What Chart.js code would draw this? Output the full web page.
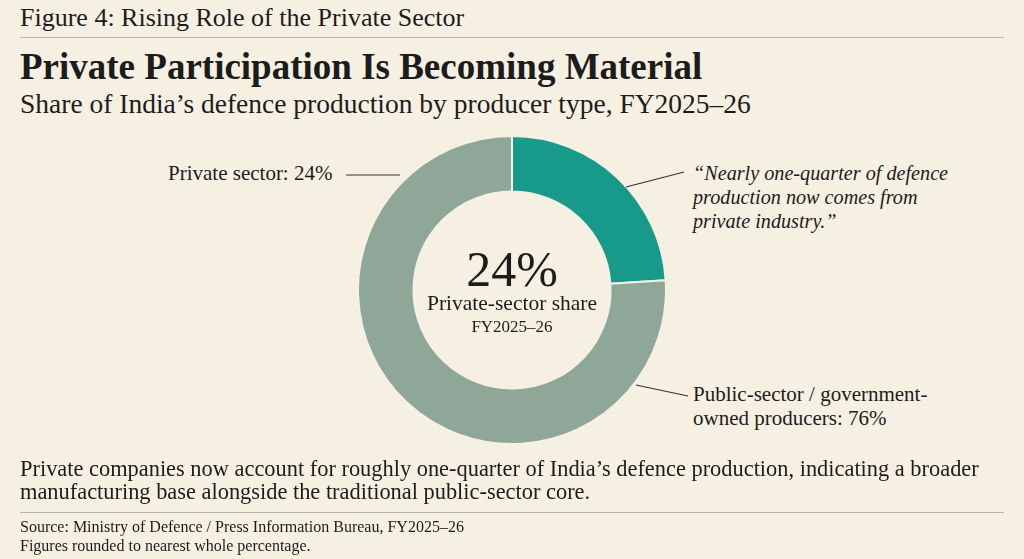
<!DOCTYPE html>
<html><head><meta charset="utf-8">
<script src="https://cdn.jsdelivr.net/npm/chart.js@4/dist/chart.umd.min.js"></script>
<style>
body{margin:0;width:1024px;height:559px;background:#f5f0e2;font-family:"Liberation Serif","DejaVu Serif",serif;color:#1c1c1c;position:relative;overflow:hidden}
.t{position:absolute;white-space:nowrap}
.hr{position:absolute;left:20px;right:20px;height:1px;background:#b9b4a6}
#box{position:absolute;left:357px;top:135px;width:310px;height:310px}
</style></head><body>
<div class="t" style="left:20px;top:3px;font-size:26px">Figure 4: Rising Role of the Private Sector</div>
<div class="hr" style="top:37px"></div>
<div class="t" style="left:20px;top:45px;font-size:37px;font-weight:bold">Private Participation Is Becoming Material</div>
<div class="t" style="left:20px;top:88px;font-size:27.5px">Share of India’s defence production by producer type, FY2025–26</div>
<div class="t" style="left:168px;top:161px;font-size:21px">Private sector: 24%</div>
<div class="t" style="left:693px;top:161px;font-size:20.2px;font-style:italic;line-height:24px">“Nearly one-quarter of defence<br>production now comes from<br>private industry.”</div>
<div class="t" style="left:693px;top:382px;font-size:21px;line-height:24px">Public-sector / government-<br>owned producers: 76%</div>
<div id="box"><canvas id="c"></canvas></div>
<div class="t" style="left:412px;top:240px;width:200px;text-align:center;font-size:50px">24%</div>
<div class="t" style="left:402px;top:291px;width:220px;text-align:center;font-size:21.5px">Private-sector share</div>
<div class="t" style="left:412px;top:317px;width:200px;text-align:center;font-size:17px">FY2025–26</div>
<svg style="position:absolute;left:0;top:0" width="1024" height="559"><g stroke="#333" stroke-width="1.2" fill="none">
<line x1="346" y1="175" x2="400" y2="175"/><line x1="626" y1="187" x2="684" y2="172"/><line x1="636" y1="385" x2="688" y2="396"/></g></svg>
<div class="t" style="left:20px;top:457px;font-size:22.4px;line-height:23px">Private companies now account for roughly one-quarter of India’s defence production, indicating a broader<br>manufacturing base alongside the traditional public-sector core.</div>
<div class="hr" style="top:512px"></div>
<div class="t" style="left:20px;top:517px;font-size:16px;line-height:19px">Source: Ministry of Defence / Press Information Bureau, FY2025–26<br>Figures rounded to nearest whole percentage.</div>
<script>
const categories=["Private sector","Public-sector / government-owned producers"];
const values=[24,76];
const colors=["#179a8a","#8fa799"];
new Chart(document.getElementById('c'),{type:'doughnut',
data:{labels:categories,datasets:[{data:values,backgroundColor:colors,borderColor:"#f5f0e2",borderWidth:2}]},
options:{responsive:true,maintainAspectRatio:false,animation:false,cutout:'64%',
plugins:{legend:{display:false},tooltip:{enabled:false}},layout:{padding:0}}});
</script>
</body></html>
